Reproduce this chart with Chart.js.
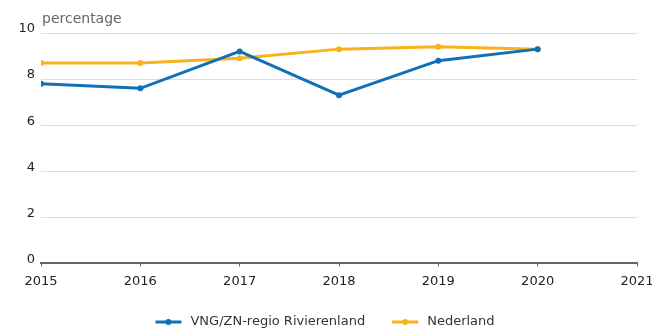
<!DOCTYPE html>
<html>
<head>
<meta charset="utf-8">
<script src="https://cdn.jsdelivr.net/npm/chart.js@4/dist/chart.umd.min.js"></script>
<style>
  html, body { margin: 0; padding: 0; background: #fff; }
  #wrap { width: 652px; height: 330px; }
</style>
</head>
<body>
<div id="wrap"><canvas id="grafiek" width="652" height="330"></canvas></div>
<script>
// --- gegevens ---
const jaren = [2015, 2016, 2017, 2018, 2019, 2020];
const regioWaarden = [7.8, 7.6, 9.2, 7.3, 8.8, 9.3];
const nederlandWaarden = [8.7, 8.7, 8.9, 9.3, 9.4, 9.3];
const yTicks = [0, 2, 4, 6, 8, 10];
const xTicks = [2015, 2016, 2017, 2018, 2019, 2020, 2021];
const eenheid = 'percentage';

const blauw = '#0f70b7';
const oranje = '#f9b21b';
const lettertype = '"DejaVu Sans", Verdana, sans-serif';

function punten(waarden) {
    return jaren.map((j, i) => ({ x: j, y: waarden[i] }));
}

// eenheid linksboven de grafiek
const eenheidLabel = {
    id: 'eenheidLabel',
    afterDraw(chart) {
        const ctx = chart.ctx;
        ctx.save();
        ctx.font = '14px ' + lettertype;
        ctx.fillStyle = '#666';
        ctx.textAlign = 'left';
        ctx.textBaseline = 'alphabetic';
        ctx.fillText(eenheid, chart.chartArea.left + 1, 23);
        ctx.restore();
    }
};

// legenda onderaan: lijntje met bolletje + naam
const legendaOnder = {
    id: 'legendaOnder',
    afterDraw(chart) {
        const ctx = chart.ctx;
        const sets = chart.data.datasets;
        const lijn = 26, gat = 9, tussen = 27, y = 322;
        ctx.save();
        ctx.font = '13px ' + lettertype;
        const breedtes = sets.map(ds => ctx.measureText(ds.label).width);
        const totaal = breedtes.reduce((s, b) => s + lijn + gat + b, 0) + tussen * (sets.length - 1);
        let x = (chart.width - totaal) / 2 - 1;
        sets.forEach((ds, i) => {
            ctx.strokeStyle = ds.borderColor;
            ctx.lineWidth = 3;
            ctx.beginPath();
            ctx.moveTo(x, y);
            ctx.lineTo(x + lijn, y);
            ctx.stroke();
            ctx.fillStyle = ds.borderColor;
            ctx.beginPath();
            ctx.arc(x + lijn / 2, y, 3, 0, Math.PI * 2);
            ctx.fill();
            ctx.fillStyle = '#333';
            ctx.textAlign = 'left';
            ctx.textBaseline = 'middle';
            ctx.fillText(ds.label, x + lijn + gat, y);
            x += lijn + gat + breedtes[i] + tussen;
        });
        ctx.restore();
    }
};

const ctx = document.getElementById('grafiek').getContext('2d');
new Chart(ctx, {
    type: 'line',
    data: {
        datasets: [
            {
                label: 'VNG/ZN-regio Rivierenland',
                data: punten(regioWaarden),
                borderColor: blauw,
                backgroundColor: blauw,
                pointBackgroundColor: blauw,
                pointBorderColor: blauw,
                pointRadius: 3,
                pointBorderWidth: 0,
                borderWidth: 3,
                tension: 0
            },
            {
                label: 'Nederland',
                data: punten(nederlandWaarden),
                borderColor: oranje,
                backgroundColor: oranje,
                pointBackgroundColor: oranje,
                pointBorderColor: oranje,
                pointRadius: 3,
                pointBorderWidth: 0,
                borderWidth: 3,
                tension: 0
            }
        ]
    },
    options: {
        responsive: false,
        animation: false,
        layout: { padding: { top: 33, right: 15, bottom: 34, left: 0 } },
        plugins: {
            legend: { display: false },
            tooltip: { enabled: false }
        },
        scales: {
            x: {
                type: 'linear',
                min: xTicks[0],
                max: xTicks[xTicks.length - 1],
                afterBuildTicks(scale) { scale.ticks = xTicks.map(v => ({ value: v })); },
                afterFit(scale) { scale.paddingLeft = 0; scale.paddingRight = 0; },
                ticks: {
                    color: '#222',
                    padding: 7,
                    font: { family: lettertype, size: 13 },
                    callback: v => String(v)
                },
                grid: { drawOnChartArea: false, tickLength: 3, color: '#666', lineWidth: 1 },
                border: { display: true, color: '#666', width: 2 }
            },
            y: {
                min: 0,
                max: 10,
                afterBuildTicks(scale) { scale.ticks = yTicks.map(v => ({ value: v })); },
                afterFit(scale) {
                    scale.width = 41;
                    scale.paddingTop = 0;
                    scale.paddingBottom = 0;
                },
                ticks: {
                    color: '#222',
                    padding: 6,
                    labelOffset: -4,
                    font: { family: lettertype, size: 13 }
                },
                grid: { color: '#dcdcdc', lineWidth: 1, drawTicks: false },
                border: { display: false }
            }
        }
    },
    plugins: [eenheidLabel, legendaOnder]
});
</script>
</body>
</html>
